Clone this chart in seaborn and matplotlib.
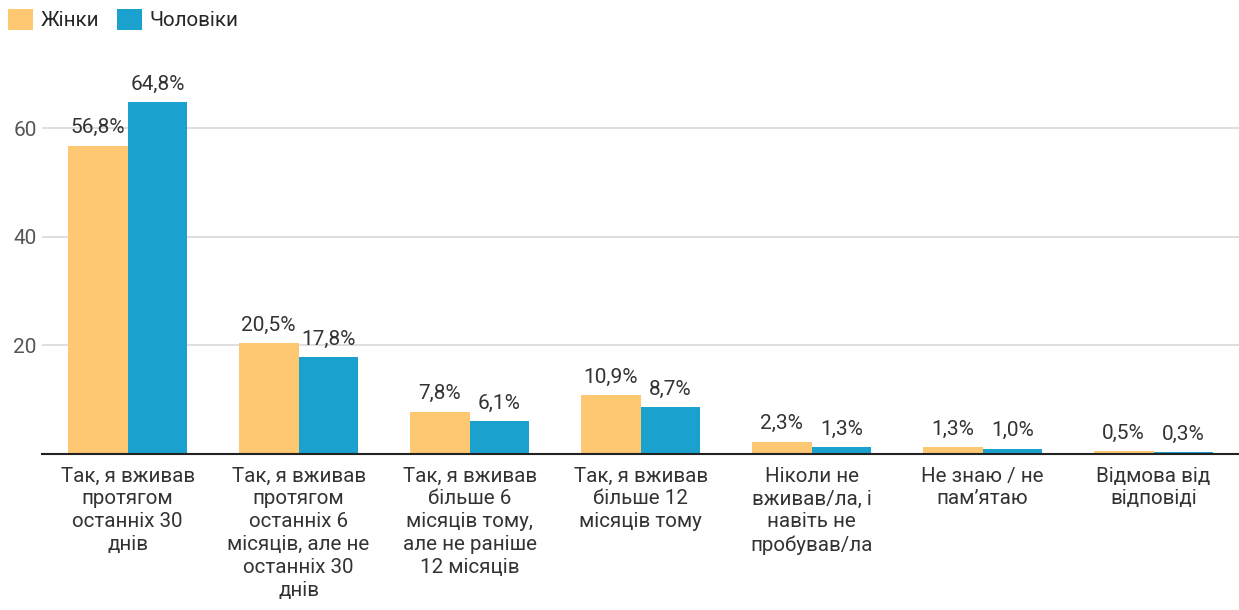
import matplotlib
matplotlib.use("Agg")
import matplotlib.pyplot as plt
import seaborn as sns
import pandas as pd
from matplotlib.patches import Patch

categories = [
    "Так, я вживав\nпротягом\nостанніх 30\nднів",
    "Так, я вживав\nпротягом\nостанніх 6\nмісяців, але не\nостанніх 30\nднів",
    "Так, я вживав\nбільше 6\nмісяців тому,\nале не раніше\n12 місяців",
    "Так, я вживав\nбільше 12\nмісяців тому",
    "Ніколи не\nвживав/ла, і\nнавіть не\nпробував/ла",
    "Не знаю / не\nпам’ятаю",
    "Відмова від\nвідповіді",
]
series_names = ["Жінки", "Чоловіки"]
women = [56.8, 20.5, 7.8, 10.9, 2.3, 1.3, 0.5]
men = [64.8, 17.8, 6.1, 8.7, 1.3, 1.0, 0.3]
colors = ["#FEC873", "#1AA1CD"]

df = pd.DataFrame({
    "cat": categories * 2,
    "series": [series_names[0]] * len(categories) + [series_names[1]] * len(categories),
    "value": women + men,
})

sns.set_theme(style="white")
plt.rcParams["font.family"] = ["Roboto", "DejaVu Sans"]

fig = plt.figure(figsize=(12.39, 6.10), dpi=100)
ax = fig.add_axes([0.034, 0.2557, 0.966, 0.6230])

sns.barplot(data=df, x="cat", y="value", hue="series", palette=colors,
            order=categories, hue_order=series_names, width=0.7,
            saturation=1, ax=ax, legend=False, errorbar=None, linewidth=0)

for cont in ax.containers:
    labels = [f"{v:.1f}%".replace(".", ",") for v in cont.datavalues]
    ax.bar_label(cont, labels=labels, padding=6, fontsize=15, color="#333333")

ax.set_ylim(0, 70)
ax.set_xlim(-0.5, len(categories) - 0.5)
ax.set_yticks([20, 40, 60])
ax.yaxis.grid(True, color="#d9d9d9", linewidth=1.2)
ax.set_axisbelow(True)
for s in ["top", "right", "left"]:
    ax.spines[s].set_visible(False)
ax.spines["bottom"].set_color("#222222")
ax.spines["bottom"].set_linewidth(1.5)
ax.set_xlabel("")
ax.set_ylabel("")
ax.tick_params(axis="y", labelsize=15, labelcolor="#555555", length=0, pad=4)
ax.tick_params(axis="x", labelsize=14.8, labelcolor="#333333", length=0, pad=9)
for t in ax.get_xticklabels():
    t.set_linespacing(1.26)

handles = [Patch(facecolor=c, edgecolor="none") for c in colors]
fig.legend(handles, series_names, loc="upper left",
           bbox_to_anchor=(8 / 1239, 1 - 9 / 610),
           ncol=2, frameon=False, fontsize=14.8, handlelength=1.2, handleheight=1.2,
           handletextpad=0.4, columnspacing=0.85, borderaxespad=0, borderpad=0)

fig.savefig("out.png", dpi=100)
